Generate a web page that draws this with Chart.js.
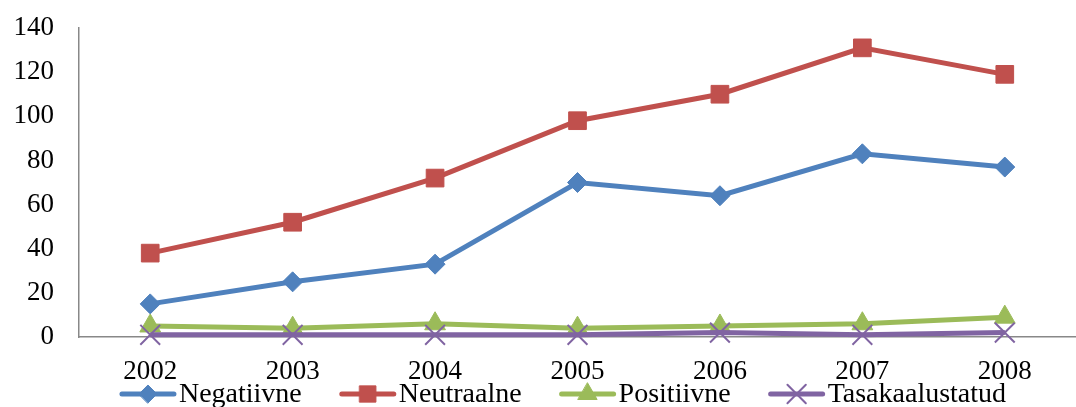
<!DOCTYPE html>
<html>
<head>
<meta charset="utf-8">
<script src="https://cdn.jsdelivr.net/npm/chart.js@4/dist/chart.umd.min.js"></script>
<style>
  html, body { margin: 0; padding: 0; background: #fff; overflow: hidden; }
  #wrap { width: 1076px; height: 407px; position: relative; }
  canvas { display: block; }
</style>
</head>
<body>
<div id="wrap"><canvas id="toneChart"></canvas></div>
<script>
  var years = ["2002", "2003", "2004", "2005", "2006", "2007", "2008"];
  var negatiivne = [15, 25, 33, 70, 64, 83, 77];
  var neutraalne = [38, 52, 72, 98, 110, 131, 119];
  var positiivne = [5, 4, 6, 4, 5, 6, 9];
  var tasakaalustatud = [1, 1, 1, 1, 2, 1, 2];
  var yTicks = [0, 20, 40, 60, 80, 100, 120, 140];

  var serif = "'Liberation Serif', 'Times New Roman', serif";

  function series(label, data, color, style, radius, order) {
    return {
      label: label,
      data: data,
      borderColor: color,
      backgroundColor: color,
      borderWidth: 5,
      pointStyle: style,
      pointRadius: radius,
      pointHoverRadius: radius,
      pointBorderWidth: style === 'crossRot' ? 2 : 1,
      tension: 0,
      clip: false,
      order: order
    };
  }

  // legend drawn by hand: line + marker, like the original
  var lineLegend = {
    id: 'lineLegend',
    afterDraw: function (chart) {
      var ctx = chart.ctx;
      var sets = chart.data.datasets;
      ctx.save();
      ctx.font = "28px " + serif;
      ctx.textBaseline = 'middle';
      var lineW = 56, gapText = 3, gapItem = 38;
      var total = 0;
      sets.forEach(function (ds, i) {
        total += lineW + gapText + ctx.measureText(ds.label).width + (i < sets.length - 1 ? gapItem : 0);
      });
      var x = 563 - total / 2;
      var y = 394;
      sets.forEach(function (ds) {
        ctx.strokeStyle = ds.borderColor;
        ctx.lineWidth = 5;
        ctx.lineCap = 'round';
        ctx.beginPath();
        ctx.moveTo(x + 2, y);
        ctx.lineTo(x + lineW - 2, y);
        ctx.stroke();
        ctx.fillStyle = ds.backgroundColor;
        ctx.lineWidth = ds.pointBorderWidth;
        Chart.helpers.drawPoint(ctx, { pointStyle: ds.pointStyle, radius: ds.pointRadius - 1, borderWidth: ds.pointBorderWidth }, x + lineW / 2, y);
        ctx.fillStyle = '#000';
        ctx.fillText(ds.label, x + lineW + gapText, y + 1);
        x += lineW + gapText + ctx.measureText(ds.label).width + gapItem;
      });
      ctx.restore();
    }
  };

  new Chart(document.getElementById("toneChart"), {
    type: 'line',
    data: {
      labels: years,
      datasets: [
        series("Negatiivne", negatiivne, "#4F81BD", 'rectRot', 10, 3),
        series("Neutraalne", neutraalne, "#C0504D", 'rect', 12.5, 2),
        series("Positiivne", positiivne, "#9BBB59", 'triangle', 12, 1),
        series("Tasakaalustatud", tasakaalustatud, "#8064A2", 'crossRot', 14, 0)
      ]
    },
    options: {
      responsive: true,
      maintainAspectRatio: false,
      animation: false,
      layout: { autoPadding: false, padding: { top: 28, right: 0, bottom: 20, left: 0 } },
      scales: {
        x: {
          offset: true,
          afterFit: function (axis) {
            axis.height = 50;
            axis.paddingLeft = 0;
            axis.paddingRight = 0;
          },
          grid: { display: false },
          border: { display: true, color: '#888', width: 1.5 },
          ticks: { color: '#000', font: { family: serif, size: 27 }, padding: 11, maxRotation: 0 }
        },
        y: {
          min: 0,
          max: 140,
          afterBuildTicks: function (axis) {
            axis.ticks = yTicks.map(function (v) { return { value: v }; });
          },
          afterFit: function (axis) {
            axis.width = 79;
            axis.paddingTop = 0;
            axis.paddingBottom = 0;
          },
          grid: { display: false },
          border: { display: true, color: '#888', width: 1.5 },
          ticks: { color: '#000', font: { family: serif, size: 27 }, padding: 17 }
        }
      },
      plugins: {
        legend: { display: false },
        title: { display: false },
        tooltip: { enabled: false }
      }
    },
    plugins: [lineLegend]
  });
</script>
</body>
</html>
